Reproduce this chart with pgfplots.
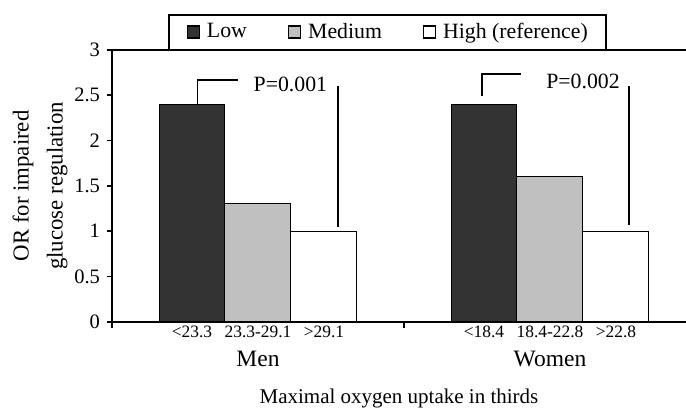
\documentclass[border=0pt]{standalone}
\usepackage{fontspec}
\setmainfont{Liberation Serif}
\usepackage{pgfplots}
\pgfplotsset{compat=1.18}
\definecolor{lowc}{HTML}{333333}
\definecolor{medc}{HTML}{C0C0C0}
\pgfplotsset{
  sq/.style={legend image code/.code={\draw[##1, line width=0.6pt] (0pt,-3pt) rectangle (6pt,3pt);}},
  bar/.style={ybar, bar width=0.226, draw=black, line width=0.5pt, sq},
  note/.style={black, line width=0.65pt, forget plot},
}
\begin{document}
\begin{tikzpicture}
\begin{axis}[
  at={(0,0)}, anchor=south west,
  scale only axis,
  width=287pt, height=135.85pt,
  xmin=-0.5, xmax=1.4658,
  ymin=0, ymax=3,
  axis x line*=box, axis y line*=left,
  axis line style={line width=0.8pt},
  ytick={0,0.5,...,3},
  tick align=outside,
  major tick length=2.5pt, minor tick length=3pt,
  tick style={line width=0.8pt, black},
  /pgf/number format/assume math mode=true,
  yticklabel style={font=\fontsize{10.25}{12}\selectfont},
  xtick={0,1}, xticklabels={Men,Women},
  xtick pos=bottom, xticklabel pos=bottom,
  major x tick style={draw=none},
  minor xtick={-0.5,0.5},
  xticklabel style={anchor=base, yshift=-20pt, font=\fontsize{11.75}{14}\selectfont},
  extra x ticks={-0.226,0,0.226,0.774,1,1.226},
  extra x tick labels={<23.3,23.3-29.1,>29.1,<18.4,18.4-22.8,>22.8},
  extra x tick style={every x tick label/.style={anchor=base, yshift=-5.5pt, font=\fontsize{8.7}{10}\selectfont}},
  xlabel={Maximal oxygen uptake in thirds},
  every axis x label/.style={at={(axis description cs:0.5,-0.300)}, anchor=base, font=\fontsize{10.5}{12}\selectfont},
  ylabel={OR for impaired\\[2.5pt]glucose regulation},
  every axis y label/.style={at={(axis description cs:-0.1254,0.5)}, rotate=90, anchor=center, align=center, font=\fontsize{11.4}{14.5}\selectfont},
  legend columns=-1,
  legend style={at={(axis description cs:0.0976,1)}, anchor=south west, draw=black, line width=0.75pt,
    inner xsep=9pt, inner ysep=4pt, font=\fontsize{10.9}{12}\selectfont,
    nodes={inner sep=0pt},
    /tikz/every odd column/.append style={column sep=3.5pt},
    /tikz/every even column/.append style={column sep=20.5pt}},
]
\addplot[bar, bar shift=-0.226, fill=lowc] coordinates {(0,2.4) (1,2.4)};
\addplot[bar, bar shift=0, fill=medc] coordinates {(0,1.3) (1,1.6)};
\addplot[bar, bar shift=0.226, fill=white] coordinates {(0,1.0) (1,1.0)};
\legend{Low, Medium, High (reference)}
% brackets and lines for the P values
\addplot[note] coordinates {(-0.208,2.4) (-0.208,2.67) (-0.0685,2.67)};
\addplot[note] coordinates {(0.274,2.60) (0.274,1.05)};
\addplot[note] coordinates {(0.767,2.495) (0.767,2.736) (0.9007,2.736)};
\addplot[note] coordinates {(1.2705,2.60) (1.2705,1.064)};
\node[font=\fontsize{10.9}{12}\selectfont] at (axis cs:0.111,2.615) {P=0.001};
\node[font=\fontsize{10.9}{12}\selectfont] at (axis cs:1.113,2.648) {P=0.002};
\end{axis}
\pgfresetboundingbox
\path[use as bounding box] (-56pt,-43.65pt) rectangle (287pt,160.85pt);
\end{tikzpicture}
\end{document}
